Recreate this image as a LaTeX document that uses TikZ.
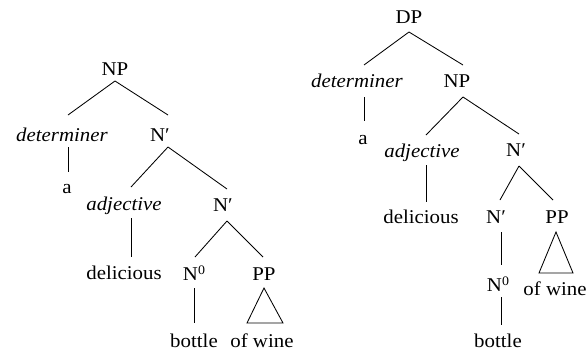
\documentclass[tikz,border=0pt]{standalone}
\usepackage{fontspec}
\setmainfont{Liberation Serif}[FakeStretch=1.07]
\newcommand\tedge[4]{\draw[br] ([shift={(#2)}]#1.base) -- ([shift={(#4)}]#3.base);}
\newcommand\zsup{\raisebox{5.5pt}{\fontsize{13}{13}\selectfont 0}}
\begin{document}
\begin{tikzpicture}[x=1pt,y=-1pt,
  lbl/.style={anchor=base,inner sep=0pt,font=\fontsize{19.5}{21}\selectfont},
  itl/.style={lbl,font=\fontsize{19.5}{21}\selectfont\itshape},
  br/.style={line width=0.85pt}]
\useasboundingbox (0,0) rectangle (587,354);
% left tree
\node[lbl] (NP1) at (115,75) {NP};
\node[itl] (det1) at (62,141) {determiner};
\node[lbl] (Nb1) at (160,141) {N′};
\node[lbl] (a1) at (67,193) {a};
\node[itl] (adj1) at (124,210) {adjective};
\node[lbl] (Nb2) at (223,211) {N′};
\node[lbl] (del1) at (124,279) {delicious};
\node[lbl] (N01) at (194,280) {N\zsup};
\node[lbl] (PP1) at (264,280) {PP};
\node[lbl] (bot1) at (194,347) {bottle};
\node[lbl] (ofw1) at (262,347) {of wine};
\tedge{NP1}{0,6}{det1}{6,-26}
\tedge{NP1}{0,6}{Nb1}{8,-26}
\tedge{det1}{6,6}{a1}{1,-21}
\tedge{Nb1}{8,6}{adj1}{7,-23}
\tedge{Nb1}{8,6}{Nb2}{4,-22}
\tedge{adj1}{7,8}{del1}{7,-22}
\tedge{Nb2}{4,10}{N01}{1,-23}
\tedge{Nb2}{4,10}{PP1}{-1,-23}
\tedge{N01}{0,8}{bot1}{0,-24}
\draw[br] ([shift={(0,8)}]PP1.base) -- ([shift={(-17,43)}]PP1.base) -- ([shift={(19,43)}]PP1.base) -- cycle;
% right tree
\node[lbl] (DP) at (409,23) {DP};
\node[itl] (det2) at (357,87) {determiner};
\node[lbl] (NP2) at (457,87) {NP};
\node[lbl] (a2) at (363,144) {a};
\node[itl] (adj2) at (422,157) {adjective};
\node[lbl] (Nb3) at (516,156) {N′};
\node[lbl] (del2) at (421,223) {delicious};
\node[lbl] (Nb4) at (496,223) {N′};
\node[lbl] (PP2) at (557,223) {PP};
\node[lbl] (N02) at (498,291) {N\zsup};
\node[lbl] (ofw2) at (555,295) {of wine};
\node[lbl] (bot2) at (498,347) {bottle};
\tedge{DP}{0,9}{det2}{7,-22}
\tedge{DP}{0,9}{NP2}{6,-22}
\tedge{det2}{7,10}{a2}{1,-23}
\tedge{NP2}{6,10}{adj2}{4,-22}
\tedge{NP2}{6,10}{Nb3}{3,-22}
\tedge{adj2}{4,8}{del2}{5,-21}
\tedge{Nb3}{3,10}{Nb4}{4,-23}
\tedge{Nb3}{3,10}{PP2}{-4,-23}
\tedge{Nb4}{5,9}{N02}{3,-26}
\tedge{N02}{3,6}{bot2}{3,-22}
\draw[br] ([shift={(-1,9)}]PP2.base) -- ([shift={(-18,50)}]PP2.base) -- ([shift={(16,50)}]PP2.base) -- cycle;
\end{tikzpicture}
\end{document}
